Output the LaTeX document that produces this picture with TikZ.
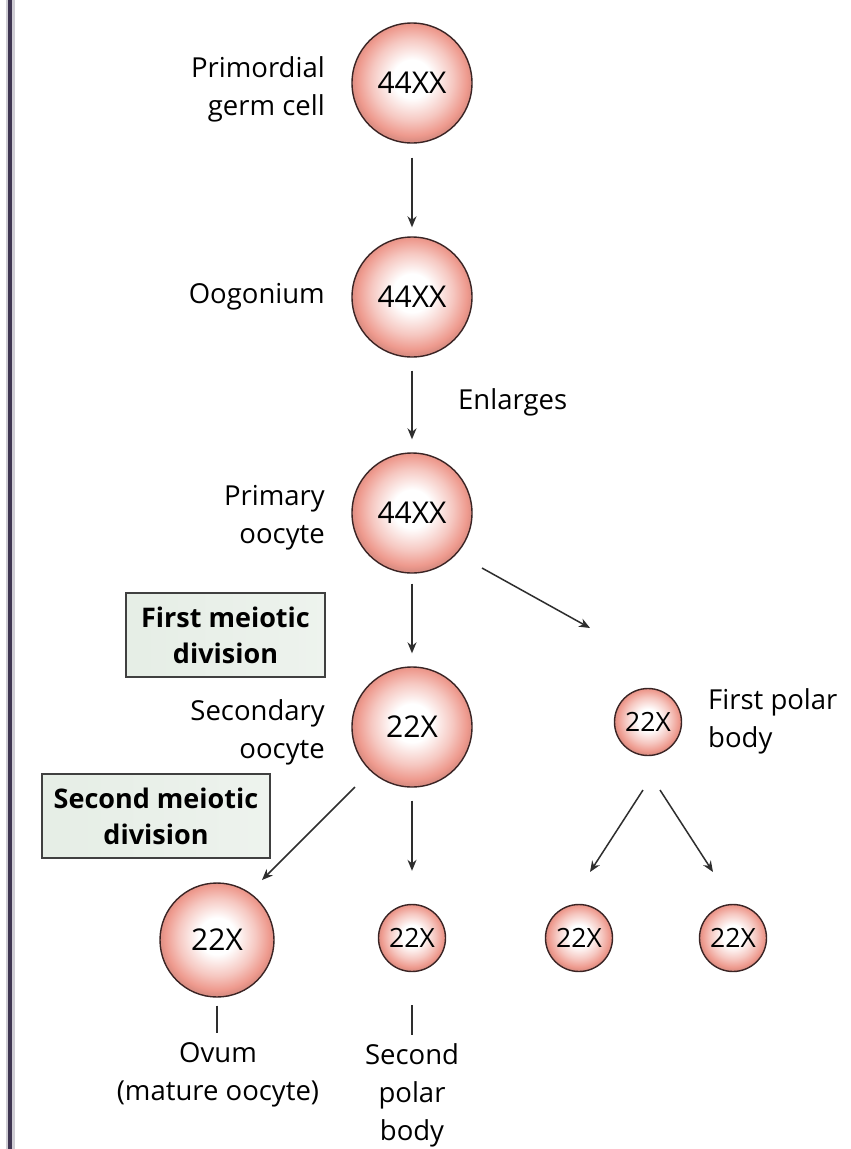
\documentclass[tikz,border=0pt]{standalone}
\usepackage{fontspec}
\setmainfont{Open Sans}
\usetikzlibrary{arrows.meta,calc}
\definecolor{cellpink}{HTML}{EE9A8E}
\definecolor{cellrim}{HTML}{3A2424}
\definecolor{boxfill}{HTML}{E2EBE2}
\definecolor{arrgray}{HTML}{2E2E2E}
\definecolor{sideline}{HTML}{3F3652}
\pgfdeclareradialshading{cellshade}{\pgfpoint{0bp}{2bp}}{%
  color(0bp)=(white); color(8bp)=(white); color(17bp)=(cellpink!55);
  color(23bp)=(cellpink); color(25bp)=(cellpink!92!black); color(50bp)=(cellpink)}
\pgfdeclarehorizontalshading{boxshade}{100bp}{%
  color(0bp)=(boxfill); color(60bp)=(boxfill!70!white); color(100bp)=(boxfill!40!white)}
\tikzset{
  cell/.style={circle, draw=cellrim, line width=1.4pt, shading=cellshade,
    minimum size=120pt, inner sep=0pt, font=\fontsize{30}{34}\selectfont},
  smallcell/.style={cell, minimum size=67pt, font=\fontsize{26.5}{30}\selectfont},
  lab/.style={inner sep=0pt, font=\fontsize{27.5}{38}\selectfont},
  meiobox/.style={draw=black!75, line width=1.6pt, shading=boxshade,
    inner sep=0pt, align=center, font=\bfseries\fontsize{27}{36}\selectfont},
  arr/.style={draw=arrgray, line width=1.5pt, -{Stealth[length=11pt,width=9pt]}},
  tick/.style={draw=arrgray, line width=1.5pt}
}
\begin{document}
\begin{tikzpicture}[x=1pt,y=-1pt]
\useasboundingbox[fill=white] (0,0) rectangle (851,1149);
\draw[sideline!25, line width=9pt] (10,0) -- (10,1149);
\draw[sideline, line width=4pt] (10,0) -- (10,1149);

% cells
\node[cell] (c1) at (412,83) {44XX};
\node[cell] (c2) at (412,297) {44XX};
\node[cell] (c3) at (412,513) {44XX};
\node[cell] (c4) at (412,727) {22X};
\node[cell, minimum size=114pt] (ov) at (217,940) {22X};
\node[smallcell] (sp) at (412,938) {22X};
\node[smallcell] (fp) at (648,722) {22X};
\node[smallcell] (b1) at (579,938) {22X};
\node[smallcell] (b2) at (733,938) {22X};

% labels
\node[lab, anchor=east, align=right] (l1) at (325,89) {Primordial\\germ cell};
\node[lab, anchor=east] (l2) at (325,297) {Oogonium};
\node[lab, anchor=west] (l3) at (458,402) {Enlarges};
\node[lab, anchor=east, align=right] (l4) at (325,518) {Primary\\oocyte};
\node[lab, anchor=east, align=right] (l5) at (325,732) {Secondary\\oocyte};
\node[lab, anchor=west, align=left] (l6) at (708,721) {First polar\\body};
\node[lab, align=center] (lov) at (218,1075) {Ovum\\(mature oocyte)};
\node[lab, align=center] (lsp) at (412,1095) {Second\\polar\\body};

% boxes
\node[meiobox, minimum width=199pt, minimum height=84pt] (m1) at (225.5,635) {First meiotic\\division};
\node[meiobox, minimum width=228pt, minimum height=84pt] (m2) at (156,816) {Second meiotic\\division};

% arrows
\draw[arr, shorten <=14pt, shorten >=9pt] (c1) -- (c2);
\draw[arr, shorten <=13pt, shorten >=13pt] (c2) -- (c3);
\draw[arr, shorten <=10pt, shorten >=13pt] (c3) -- (c4);
\draw[arr, shorten <=13pt, shorten >=33pt] (c4) -- (sp);
\draw[arr] ($(c3)+(70,55)$) -- ($(fp)+(-58,-94)$);
\draw[arr] ($(c4)+(-57,60)$) -- ($(ov)+(45,-60)$);
\draw[arr] ($(fp)+(-5,68)$) -- ($(b1)+(11,-66)$);
\draw[arr] ($(fp)+(12,68)$) -- ($(b2)+(-20,-66)$);

% ticks
\draw[tick] ($(ov.south)+(0,8)$) -- ($(ov.south)+(0,35)$);
\draw[tick] ($(sp.south)+(0,33)$) -- ($(sp.south)+(0,63)$);
\end{tikzpicture}
\end{document}
